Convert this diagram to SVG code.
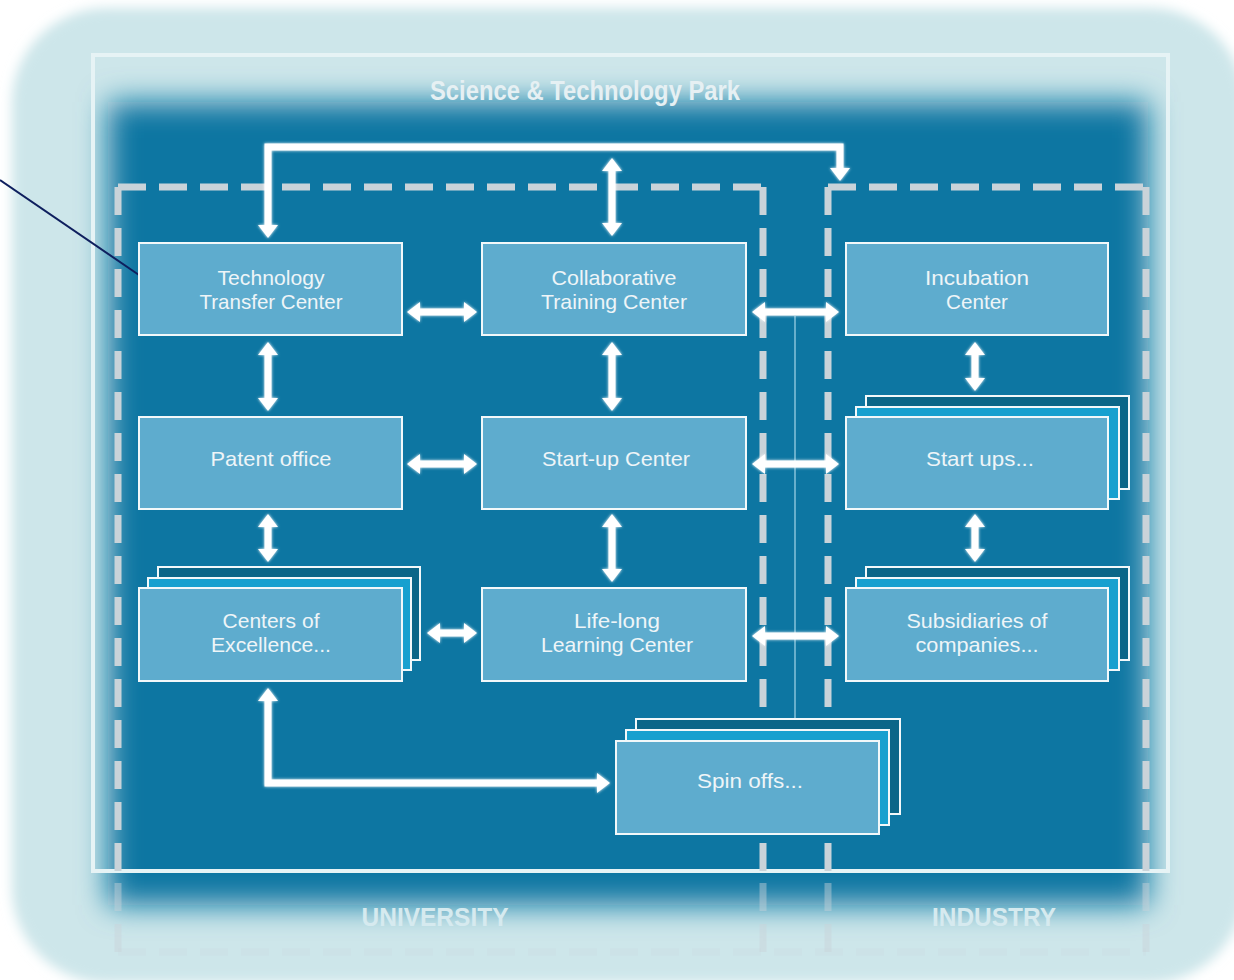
<svg xmlns="http://www.w3.org/2000/svg" width="1234" height="980" viewBox="0 0 1234 980">
<defs>
<style>
.node{fill:#5eacce;stroke:#f2f8fa;stroke-width:2}
.mid{fill:#17a0cf;stroke:#f2f8fa;stroke-width:2}
.back{fill:#0b6688;stroke:#f2f8fa;stroke-width:2}
.lbl{font-family:"Liberation Sans",Arial,sans-serif;font-size:21px;fill:#eef5f8;text-anchor:middle}
.title{font-family:"Liberation Sans",Arial,sans-serif;font-size:27px;font-weight:bold;fill:#e6f0f3;text-anchor:middle}
.zone{font-family:"Liberation Sans",Arial,sans-serif;font-size:26px;font-weight:bold;fill:#d6eaef;text-anchor:middle}
.dash{stroke:#c9d3d9;stroke-width:7;fill:none;stroke-dasharray:28 13}
.arr{stroke:#ffffff;stroke-width:7;fill:none;marker-start:url(#ah);marker-end:url(#ah)}
</style>
<marker id="ah" markerUnits="userSpaceOnUse" viewBox="0 -11 14 22" markerWidth="14" markerHeight="22" refX="0" refY="0" orient="auto-start-reverse">
<path d="M0,-10 L13,0 L0,10 Z" fill="#ffffff"/>
</marker>
<filter id="soft" x="-10%" y="-10%" width="120%" height="120%"><feGaussianBlur stdDeviation="6"/></filter>
<filter id="blueblur" x="-10%" y="-10%" width="120%" height="120%"><feGaussianBlur stdDeviation="15"/></filter>
<filter id="glow" x="-20%" y="-20%" width="140%" height="140%">
<feGaussianBlur in="SourceGraphic" stdDeviation="1.8" result="b"/>
<feMerge><feMergeNode in="b"/><feMergeNode in="SourceGraphic"/></feMerge>
</filter>
</defs>

<rect x="0" y="0" width="1234" height="980" fill="#ffffff"/>
<rect x="12" y="8" width="1232" height="975" rx="95" fill="#cde6ea" filter="url(#soft)"/>
<rect x="108" y="102" width="1040" height="803" fill="#0776a2" filter="url(#blueblur)"/>
<rect x="93" y="55" width="1075" height="816" fill="none" stroke="#e6f3f5" stroke-width="4"/>

<text class="title" x="585" y="100" textLength="310" lengthAdjust="spacingAndGlyphs">Science &amp; Technology Park</text>

<g id="zones">
<path class="dash" d="M118,187 H763"/>
<path class="dash" d="M118,187 V871"/>
<path class="dash" d="M763,187 V871"/>
<path class="dash" d="M828,187 H1146"/>
<path class="dash" d="M828,187 V871"/>
<path class="dash" d="M1146,187 V871"/>
<g opacity="0.45">
<path class="dash" d="M118,883 V955"/>
<path class="dash" d="M763,883 V955"/>
<path class="dash" d="M828,883 V955"/>
<path class="dash" d="M1146,883 V955"/>
</g>
<path class="dash" d="M118,952 H1146" opacity="0.15"/>
<text class="zone" x="435" y="926" textLength="147" lengthAdjust="spacingAndGlyphs">UNIVERSITY</text>
<text class="zone" x="994" y="926" textLength="124" lengthAdjust="spacingAndGlyphs">INDUSTRY</text>
</g>

<line x1="0" y1="180" x2="139" y2="275" stroke="#0e1f5e" stroke-width="2"/>

<g id="connectors">
<line x1="795" y1="316" x2="795" y2="720" stroke="#86c3da" stroke-width="1.5"/>
<g filter="url(#glow)">
<path class="arr" d="M268,225 V147 H840 V168"/>
<path class="arr" d="M612,171 V223"/>
<path class="arr" d="M268,701 V783 H597"/>
<path class="arr" d="M268,355 V398"/>
<path class="arr" d="M268,527 V549"/>
<path class="arr" d="M612,355 V398"/>
<path class="arr" d="M612,527 V569"/>
<path class="arr" d="M975,355 V378"/>
<path class="arr" d="M975,527 V549"/>
<path class="arr" d="M420,312 H464"/>
<path class="arr" d="M420,464 H464"/>
<path class="arr" d="M440,633 H464"/>
<path class="arr" d="M765,312 H826"/>
<path class="arr" d="M765,464 H826"/>
<path class="arr" d="M765,636 H826"/>
</g>
</g>

<g id="ttc">
<rect class="node" x="139" y="243" width="263" height="92"/>
<text class="lbl" x="271" y="285" textLength="107" lengthAdjust="spacingAndGlyphs">Technology</text>
<text class="lbl" x="271" y="309" textLength="143" lengthAdjust="spacingAndGlyphs">Transfer Center</text>
</g>
<g id="ctc">
<rect class="node" x="482" y="243" width="264" height="92"/>
<text class="lbl" x="614" y="285" textLength="125" lengthAdjust="spacingAndGlyphs">Collaborative</text>
<text class="lbl" x="614" y="309" textLength="146" lengthAdjust="spacingAndGlyphs">Training Center</text>
</g>
<g id="incubation">
<rect class="node" x="846" y="243" width="262" height="92"/>
<text class="lbl" x="977" y="285" textLength="104" lengthAdjust="spacingAndGlyphs">Incubation</text>
<text class="lbl" x="977" y="309" textLength="62" lengthAdjust="spacingAndGlyphs">Center</text>
</g>
<g id="patent">
<rect class="node" x="139" y="417" width="263" height="92"/>
<text class="lbl" x="271" y="466" textLength="121" lengthAdjust="spacingAndGlyphs">Patent office</text>
</g>
<g id="startupcenter">
<rect class="node" x="482" y="417" width="264" height="92"/>
<text class="lbl" x="616" y="466" textLength="148" lengthAdjust="spacingAndGlyphs">Start-up Center</text>
</g>
<g id="startups">
<rect class="back" x="866" y="396" width="263" height="93"/>
<rect class="mid" x="856" y="407" width="263" height="92"/>
<rect class="node" x="846" y="417" width="262" height="92"/>
<text class="lbl" x="980" y="466" textLength="108" lengthAdjust="spacingAndGlyphs">Start ups...</text>
</g>
<g id="coe">
<rect class="back" x="158" y="567" width="262" height="93"/>
<rect class="mid" x="148" y="578" width="263" height="92"/>
<rect class="node" x="139" y="588" width="263" height="93"/>
<text class="lbl" x="271" y="628" textLength="97" lengthAdjust="spacingAndGlyphs">Centers of</text>
<text class="lbl" x="271" y="652" textLength="120" lengthAdjust="spacingAndGlyphs">Excellence...</text>
</g>
<g id="lifelong">
<rect class="node" x="482" y="588" width="264" height="93"/>
<text class="lbl" x="617" y="628" textLength="86" lengthAdjust="spacingAndGlyphs">Life-long</text>
<text class="lbl" x="617" y="652" textLength="152" lengthAdjust="spacingAndGlyphs">Learning Center</text>
</g>
<g id="subsidiaries">
<rect class="back" x="866" y="567" width="263" height="93"/>
<rect class="mid" x="856" y="578" width="263" height="92"/>
<rect class="node" x="846" y="588" width="262" height="93"/>
<text class="lbl" x="977" y="628" textLength="141" lengthAdjust="spacingAndGlyphs">Subsidiaries of</text>
<text class="lbl" x="977" y="652" textLength="123" lengthAdjust="spacingAndGlyphs">companies...</text>
</g>
<g id="spinoffs">
<rect class="back" x="636" y="719" width="264" height="95"/>
<rect class="mid" x="626" y="730" width="263" height="95"/>
<rect class="node" x="616" y="741" width="263" height="93"/>
<text class="lbl" x="750" y="788" textLength="106" lengthAdjust="spacingAndGlyphs">Spin offs...</text>
</g>
</svg>
